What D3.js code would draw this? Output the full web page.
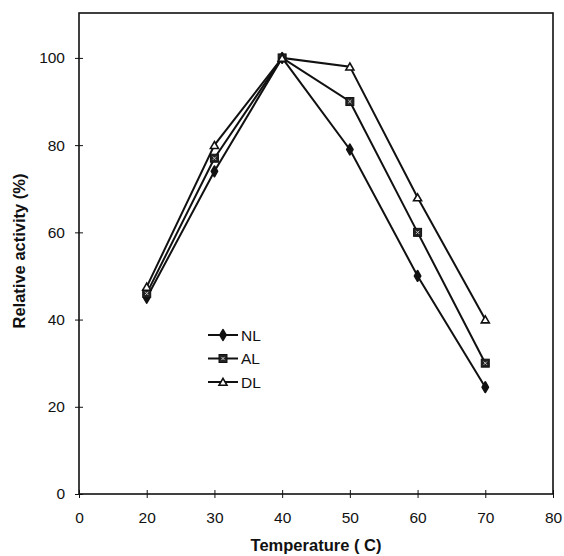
<!DOCTYPE html>
<html lang="en">
<head>
    <meta charset="UTF-8">
    <title>Relative activity vs temperature</title>
    <script src="https://d3js.org/d3.v7.min.js"></script>
    <style>
        body { margin: 0; background: #fff; }
        text { font-family: "Liberation Sans", Arial, sans-serif; fill: #111; }
    </style>
</head>
<body>
<div id="chart"></div>
<script>
    // Data
    const xTicks = ['0', '20', '30', '40', '50', '60', '70', '80'];
    const temps = ['20', '30', '40', '50', '60', '70'];
    const nl = [45, 74, 100, 79, 50, 24.5];
    const al = [46, 77, 100, 90, 60, 30];
    const dl = [47.5, 80, 100, 98, 68, 40];
    const yTicks = [0, 20, 40, 60, 80, 100];

    const series = [
        { name: 'NL', values: nl, marker: 'circle' },
        { name: 'AL', values: al, marker: 'square' },
        { name: 'DL', values: dl, marker: 'triangle' }
    ];

    const width = 564, height = 556;
    const margin = { top: 13, right: 11, bottom: 62, left: 79 };
    const innerW = width - margin.left - margin.right;
    const innerH = height - margin.top - margin.bottom;

    const svg = d3.select('#chart').append('svg')
        .attr('width', width)
        .attr('height', height);

    const g = svg.append('g')
        .attr('transform', `translate(${margin.left},${margin.top})`);

    const x = d3.scalePoint().domain(xTicks).range([0, innerW]);
    const y = d3.scaleLinear().domain([0, 110.3]).range([innerH, 0]);

    // frame
    g.append('rect')
        .attr('width', innerW).attr('height', innerH)
        .attr('fill', 'none').attr('stroke', '#111').attr('stroke-width', 1.6);

    // y axis ticks (cross the axis line)
    const yAxis = g.append('g')
        .call(d3.axisLeft(y).tickValues(yTicks).tickSize(4).tickPadding(10))
        .call(a => a.select('.domain').remove());
    yAxis.selectAll('.tick line').attr('x2', 4).attr('x1', -4).attr('stroke', '#111');
    yAxis.selectAll('text').style('font-size', '15.5px');

    const xAxis = g.append('g')
        .attr('transform', `translate(0,${innerH})`)
        .call(d3.axisBottom(x).tickSize(4).tickPadding(14))
        .call(a => a.select('.domain').remove());
    xAxis.selectAll('.tick line').attr('y1', -4).attr('y2', 4).attr('stroke', '#111');
    xAxis.selectAll('text').style('font-size', '15.5px');

    // lines
    const line = d3.line()
        .x((d, i) => x(temps[i]))
        .y(d => y(d));

    series.forEach(s => {
        g.append('path')
            .datum(s.values)
            .attr('fill', 'none')
            .attr('stroke', '#111')
            .attr('stroke-width', 2)
            .attr('d', line);
    });

    function drawMarker(sel, type, cx, cy) {
        if (type === 'circle') {
            sel.append('path')
                .attr('d', d3.symbol(d3.symbolDiamond, 30)())
                .attr('transform', `translate(${cx},${cy})`)
                .attr('fill', '#111').attr('stroke', '#111').attr('stroke-width', 2)
                .attr('stroke-linejoin', 'round');
        } else if (type === 'square') {
            sel.append('rect')
                .attr('x', cx - 4).attr('y', cy - 4)
                .attr('width', 8).attr('height', 8)
                .attr('fill', '#222').attr('stroke', '#111').attr('stroke-width', 1);
            sel.append('path')
                .attr('d', d3.symbol(d3.symbolTimes, 8)())
                .attr('transform', `translate(${cx},${cy})`)
                .attr('stroke', '#ccc').attr('stroke-width', 1).attr('fill', 'none');
        } else {
            sel.append('path')
                .attr('d', d3.symbol(d3.symbolTriangle, 28)())
                .attr('transform', `translate(${cx},${cy + 1})`)
                .attr('fill', '#fff').attr('stroke', '#111').attr('stroke-width', 1.6);
        }
    }

    series.forEach(s => {
        const mg = g.append('g');
        s.values.forEach((v, i) => drawMarker(mg, s.marker, x(temps[i]), y(v)));
    });

    // legend
    const legend = g.append('g').attr('transform', `translate(${208 - margin.left},${335 - margin.top})`);
    series.forEach((s, i) => {
        const row = legend.append('g').attr('transform', `translate(0,${i * 23.5})`);
        row.append('line')
            .attr('x1', 0).attr('x2', 30)
            .attr('stroke', '#111').attr('stroke-width', 2);
        drawMarker(row, s.marker, 15, 0);
        row.append('text')
            .attr('x', 33).attr('dy', '0.36em')
            .style('font-size', '15.5px')
            .text(s.name);
    });

    // axis titles
    svg.append('text')
        .attr('x', margin.left + innerW / 2)
        .attr('y', 551)
        .attr('text-anchor', 'middle')
        .style('font-size', '16.5px')
        .style('font-weight', 'bold')
        .text('Temperature ( C)');

    svg.append('text')
        .attr('transform', `translate(25,251) rotate(-90)`)
        .attr('text-anchor', 'middle')
        .style('font-size', '16.5px')
        .style('font-weight', 'bold')
        .text('Relative activity (%)');
</script>
</body>
</html>
